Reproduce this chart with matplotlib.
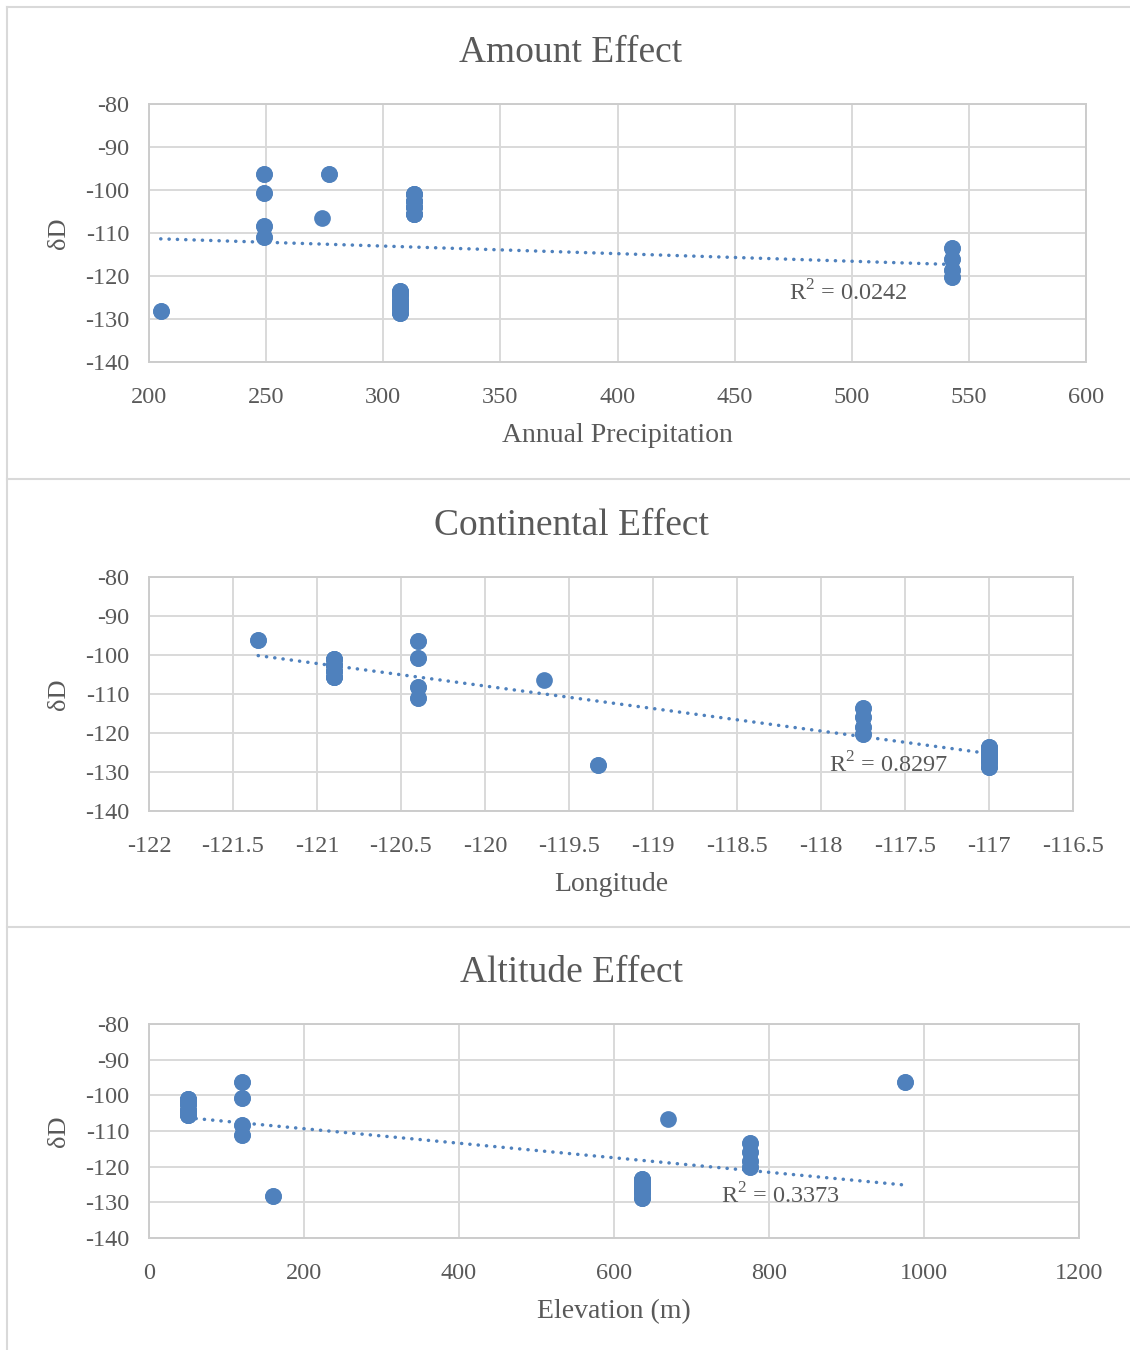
import numpy as np
import matplotlib
matplotlib.use("Agg")
import matplotlib.pyplot as plt
from matplotlib.lines import Line2D

# ---- data (overlapping duplicates included) ----
# delta D values grouped by sampling station
dD_A = [-96.3, -100.8, -108.3, -111.0, -96.3, -100.8, -108.3, -111.0]      # precip 249, lon -120.4, elev 120
dD_B = [-96.2, -96.2]                                                      # precip 277, lon -121.35, elev 975
dD_C = [-106.5]                                                            # precip 274, lon -119.65, elev 670
dD_D = [-101.0, -102.5, -104.0, -105.6, -101.0, -102.5, -104.0, -105.6,
        -101.0, -102.5, -104.0, -105.6, -101.0, -102.5, -104.0, -105.6]    # precip 313, lon -120.9, elev 50
dD_E = [-123.5, -124.5, -125.5, -126.5, -127.5, -128.7,
        -123.5, -124.5, -125.5, -126.5, -127.5, -128.7,
        -123.5, -124.5, -125.5, -126.5, -127.5, -128.7]                    # precip 307, lon -117.0, elev 636
dD_F = [-113.5, -116.0, -118.5, -120.2, -113.5, -116.0, -118.5, -120.2]    # precip 543, lon -117.75, elev 775
dD_G = [-128.2, -128.2]                                                    # precip 205, lon -119.33, elev 160

precip = [249, 277, 274, 313, 307, 543, 205]
longitude = [-120.4, -121.35, -119.65, -120.9, -117.0, -117.75, -119.33]
elevation = [120, 975, 670, 50, 636, 775, 160]
groups = [dD_A, dD_B, dD_C, dD_D, dD_E, dD_F, dD_G]

titles = ["Amount Effect", "Continental Effect", "Altitude Effect"]
xlabels = ["Annual Precipitation", "Longitude", "Elevation (m)"]
r2_labels = ["R$^2$ = 0.0242", "R$^2$ = 0.8297", "R$^2$ = 0.3373"]
xticks_list = [[200, 250, 300, 350, 400, 450, 500, 550, 600],
               [-122, -121.5, -121, -120.5, -120, -119.5, -119, -118.5, -118, -117.5, -117, -116.5],
               [0, 200, 400, 600, 800, 1000, 1200]]
yticks = [-80, -90, -100, -110, -120, -130, -140]

W, H = 1130, 1350
plt.rcParams['font.family'] = ['Liberation Serif', 'DejaVu Serif']
plt.rcParams['mathtext.fontset'] = 'custom'
plt.rcParams['mathtext.rm'] = 'Liberation Serif'
fig = plt.figure(figsize=(W / 100, H / 100), dpi=100)

BLUE = "#4F81BD"
TXT = "#595959"
GRID = "#d9d9d9"

# chart frames (outer borders)
for y in [7, 479, 927]:
    fig.add_artist(Line2D([7 / W, 1.0], [1 - y / H, 1 - y / H], color=GRID, lw=1.5))
fig.add_artist(Line2D([7 / W, 7 / W], [1 - 7 / H, 0], color=GRID, lw=1.5))

# plot area pixel boxes: left, right, top, bottom
boxes = [(149, 1086, 104, 362), (149, 1073, 577, 811), (149, 1079, 1024, 1238)]
title_y = [53, 526, 973]
r2_pos = [(473, -124.0), (-117.95, -128.2), (738, -128.2)]
xdata = [precip, longitude, elevation]

for i in range(3):
    l, r, t, b = boxes[i]
    ax = fig.add_axes([l / W, 1 - b / H, (r - l) / W, (b - t) / H])
    xs, ys = [], []
    for xv, g in zip(xdata[i], groups):
        for v in g:
            xs.append(xv)
            ys.append(v)
    xs = np.array(xs, float)
    ys = np.array(ys, float)
    ax.scatter(xs, ys, s=145, color=BLUE, zorder=3, linewidths=0)
    k, c = np.polyfit(xs, ys, 1)
    xx = np.array([xs.min(), xs.max()])
    ax.plot(xx, k * xx + c, color=BLUE, lw=2.5, linestyle=(0, (0.05, 2.35)),
            dash_capstyle='round', zorder=2)
    xt = xticks_list[i]
    ax.set_xlim(xt[0], xt[-1])
    ax.set_ylim(-140, -80)
    ax.set_xticks(xt)
    ax.set_xticklabels([("%g" % v) for v in xt])
    ax.set_yticks(yticks)
    ax.set_yticklabels([str(v) for v in yticks])
    ax.grid(True, color=GRID, lw=1.4)
    ax.set_axisbelow(True)
    for s in ax.spines.values():
        s.set_color("#cccccc")
        s.set_linewidth(1.4)
    ax.tick_params(axis='y', length=0, labelsize=17.5, colors=TXT, pad=14)
    ax.tick_params(axis='x', length=0, labelsize=17.5, colors=TXT, pad=18)
    ax.set_xlabel(xlabels[i], fontsize=20, color=TXT, labelpad=11)
    ax.set_ylabel("δD", fontsize=19, color=TXT, labelpad=11)
    ax.text(r2_pos[i][0], r2_pos[i][1], r2_labels[i], fontsize=17.5, color=TXT,
            ha='left', va='center', zorder=4)
    fig.text(571 / W, 1 - title_y[i] / H, titles[i], fontsize=27, color=TXT,
             ha='center', va='center')

fig.savefig("out.png", dpi=100, facecolor="white")
